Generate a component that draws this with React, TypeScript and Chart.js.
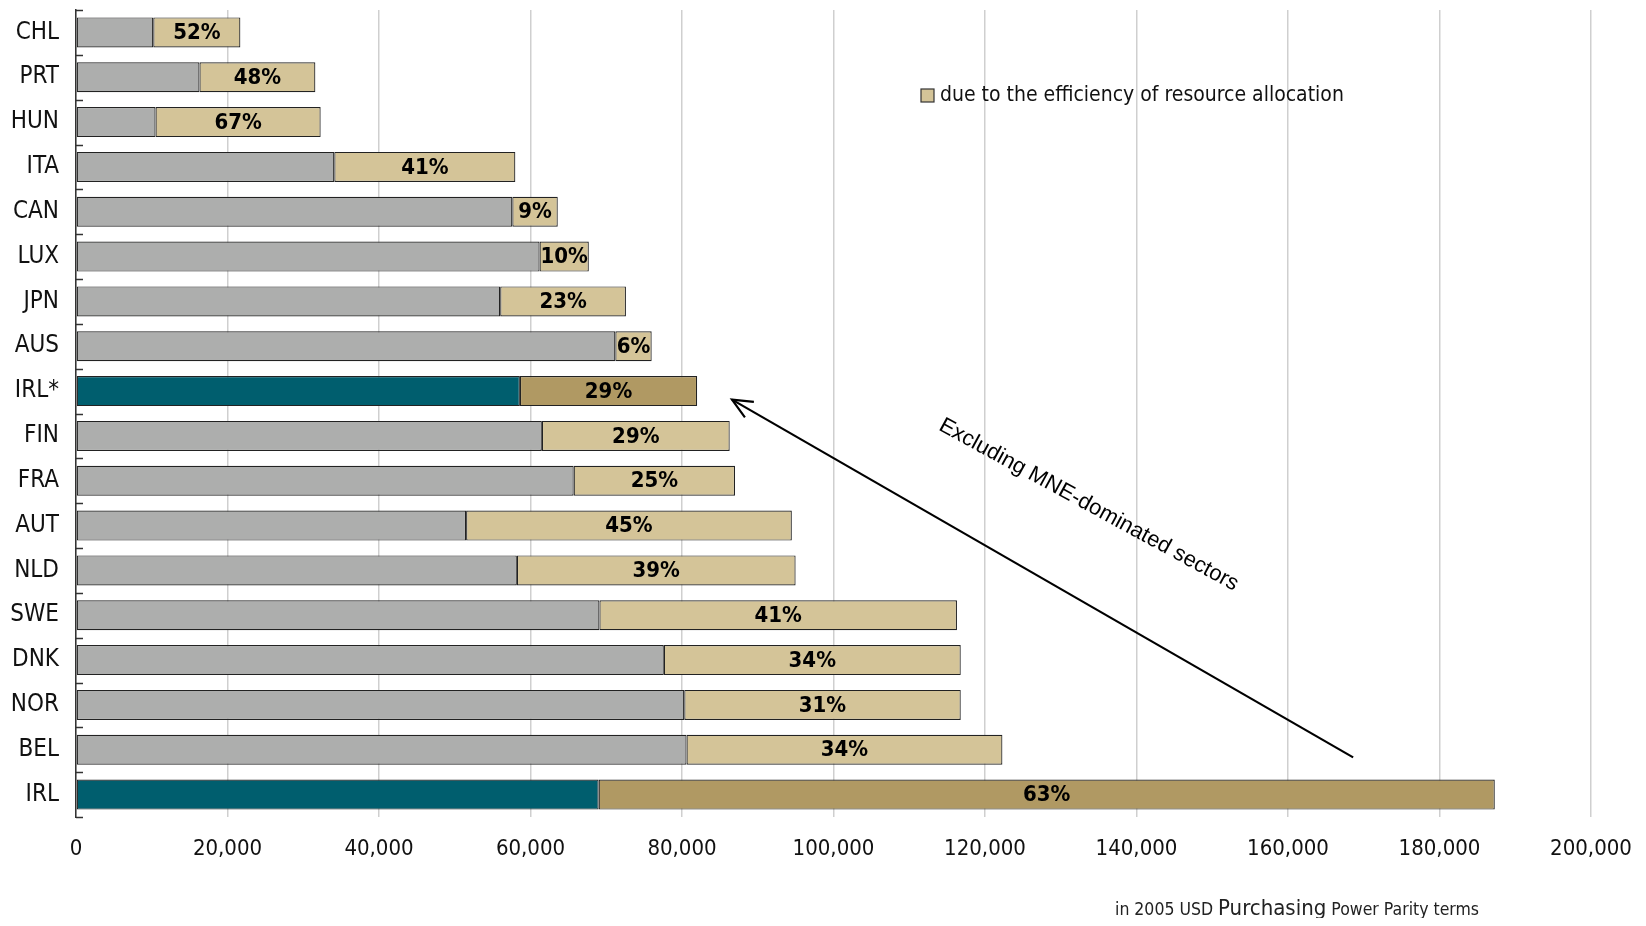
import React, { useEffect, useRef } from "react";
import { Chart, registerables } from "chart.js";

Chart.register(...registerables);

const countries = ["CHL", "PRT", "HUN", "ITA", "CAN", "LUX", "JPN", "AUS", "IRL*", "FIN", "FRA", "AUT", "NLD", "SWE", "DNK", "NOR", "BEL", "IRL"];
const baseValues = [10200, 16300, 10500, 34100, 57600, 61200, 56000, 71200, 58600, 61500, 65700, 51500, 58200, 69100, 77600, 80300, 80600, 69000];
const allocationValues = [11500, 15300, 21800, 23900, 6000, 6500, 16600, 4800, 23400, 24800, 21300, 43000, 36800, 47200, 39200, 36500, 41700, 118300];
const shareLabels = ["52%", "48%", "67%", "41%", "9%", "10%", "23%", "6%", "29%", "29%", "25%", "45%", "39%", "41%", "34%", "31%", "34%", "63%"];
const highlighted = ["IRL*", "IRL"];
const xMin = 0;
const xMax = 200000;
const xStep = 20000;
const legendLabel = "due to the efficiency of resource allocation";
const arrowNote = "Excluding MNE-dominated sectors";
const footnoteParts = ["in 2005 USD ", "Purchasing", " Power Parity terms"];
// arrow from (value, category index) to (value, category index)
const arrowTail = [168600, 16.17];
const arrowHead = [86600, 8.19];
const notePos = [133700, 10.54];

const FONT = "'Liberation Sans', Arial, sans-serif";
const NARROW = "'DejaVu Sans Condensed', 'Liberation Sans', sans-serif";
const GREY = "#ADAEAD";
const TAN = "#D4C498";
const TEAL = "#005E6E";
const DARK_TAN = "#B09963";

const annotations = {
  id: "annotations",
  afterDatasetsDraw(chart: any) {
    const ctx = chart.ctx as CanvasRenderingContext2D;
    const { left, top, bottom } = chart.chartArea;
    const xs = chart.scales.x;
    const ys = chart.scales.y;
    ctx.save();

    // small inside ticks on category axis
    ctx.strokeStyle = "#333";
    ctx.lineWidth = 1.5;
    const n = countries.length;
    const step = (bottom - top) / n;
    for (let i = 0; i <= n; i++) {
      const y = Math.round(top + i * step) + 0.5;
      ctx.beginPath();
      ctx.moveTo(left, y);
      ctx.lineTo(left + 7, y);
      ctx.stroke();
    }

    // share labels
    const meta = chart.getDatasetMeta(1);
    ctx.font = `bold 22px ${NARROW}`;
    ctx.fillStyle = "#000";
    ctx.textAlign = "center";
    ctx.textBaseline = "middle";
    meta.data.forEach((bar: any, i: number) => {
      const p = bar.getProps(["x", "y", "base"], true);
      ctx.fillText(shareLabels[i], (p.x + p.base) / 2, p.y + 1);
    });

    // legend
    const lx = left + 845;
    const ly = top + 79;
    ctx.fillStyle = TAN;
    ctx.fillRect(lx, ly, 13, 13);
    ctx.strokeStyle = "#333";
    ctx.lineWidth = 1.2;
    ctx.strokeRect(lx, ly, 13, 13);
    ctx.fillStyle = "#111";
    ctx.font = `21px ${NARROW}`;
    ctx.textAlign = "left";
    ctx.textBaseline = "middle";
    ctx.fillText(legendLabel, lx + 19, ly + 7);

    // arrow
    const tx = xs.getPixelForValue(arrowTail[0]);
    const ty = ys.getPixelForValue(arrowTail[1]);
    const hx = xs.getPixelForValue(arrowHead[0]);
    const hy = ys.getPixelForValue(arrowHead[1]);
    ctx.strokeStyle = "#000";
    ctx.lineWidth = 2.2;
    ctx.beginPath();
    ctx.moveTo(tx, ty);
    ctx.lineTo(hx, hy);
    ctx.stroke();
    const ang = Math.atan2(hy - ty, hx - tx);
    const hl = 22;
    ctx.beginPath();
    ctx.moveTo(hx + hl * Math.cos(ang + Math.PI - 0.42), hy + hl * Math.sin(ang + Math.PI - 0.42));
    ctx.lineTo(hx, hy);
    ctx.lineTo(hx + hl * Math.cos(ang + Math.PI + 0.42), hy + hl * Math.sin(ang + Math.PI + 0.42));
    ctx.stroke();

    // rotated note
    const nx = xs.getPixelForValue(notePos[0]);
    const ny = ys.getPixelForValue(notePos[1]);
    ctx.translate(nx, ny);
    ctx.rotate((28.6 * Math.PI) / 180);
    ctx.font = `22px ${FONT}`;
    ctx.textAlign = "center";
    ctx.textBaseline = "middle";
    ctx.fillStyle = "#000";
    ctx.fillText(arrowNote, 0, 0);
    ctx.setTransform(1, 0, 0, 1, 0, 0);

    ctx.restore();
  },
  afterDraw(chart: any) {
    const ctx = chart.ctx as CanvasRenderingContext2D;
    ctx.save();
    const { left } = chart.chartArea;
    let x = left + 1039;
    const y = chart.height - 3;
    ctx.fillStyle = "#222";
    ctx.textAlign = "left";
    ctx.textBaseline = "alphabetic";
    footnoteParts.forEach((t, i) => {
      ctx.font = `${i === 1 ? 22 : 17.5}px ${NARROW}`;
      ctx.fillText(t, x, y);
      x += ctx.measureText(t).width;
    });
    ctx.restore();
  },
};

export default function App() {
  const ref = useRef<HTMLCanvasElement | null>(null);
  useEffect(() => {
    if (!ref.current) return;
    const isHi = (c: string) => highlighted.includes(c);
    const chart = new Chart(ref.current, {
      type: "bar",
      data: {
        labels: countries,
        datasets: [
          {
            label: "level",
            data: baseValues,
            backgroundColor: countries.map((c) => (isHi(c) ? TEAL : GREY)),
            borderColor: "#222",
            borderWidth: 1.2,
            borderSkipped: false,
            categoryPercentage: 1,
            barPercentage: 0.67,
          },
          {
            label: legendLabel,
            data: allocationValues,
            backgroundColor: countries.map((c) => (isHi(c) ? DARK_TAN : TAN)),
            borderColor: "#222",
            borderWidth: 1.2,
            borderSkipped: false,
            categoryPercentage: 1,
            barPercentage: 0.67,
          },
        ],
      },
      options: {
        indexAxis: "y",
        animation: false,
        responsive: false,
        maintainAspectRatio: false,
        layout: { padding: { top: 2, right: 47, left: 0, bottom: 0 } },
        plugins: {
          legend: { display: false },
          tooltip: { enabled: false },
        },
        scales: {
          x: {
            stacked: true,
            min: xMin,
            max: xMax,
            ticks: {
              stepSize: xStep,
              padding: 19,
              color: "#111",
              font: { family: NARROW, size: 22 },
              callback: (v: any) => Number(v).toLocaleString("en-US"),
            },
            grid: { color: "#CFCFCF", lineWidth: 1.5, drawTicks: false },
            border: { display: false },
            afterFit: (s: any) => {
              s.height = 101;
              s.paddingLeft = 0;
              s.paddingRight = 0;
            },
          },
          y: {
            stacked: true,
            ticks: { padding: 17, color: "#111", font: { family: NARROW, size: 24 } },
            grid: { display: false, drawTicks: false },
            border: { display: true, color: "#333", width: 1.5 },
            afterFit: (s: any) => {
              s.width = 68;
              s.paddingTop = 0;
              s.paddingBottom = 0;
            },
          },
        },
      },
      plugins: [annotations],
    });
    return () => chart.destroy();
  }, []);
  return (
    <div style={{ width: 1630, height: 910 }}>
      <canvas ref={ref} width={1630} height={910} style={{ display: "block" }} />
    </div>
  );
}
